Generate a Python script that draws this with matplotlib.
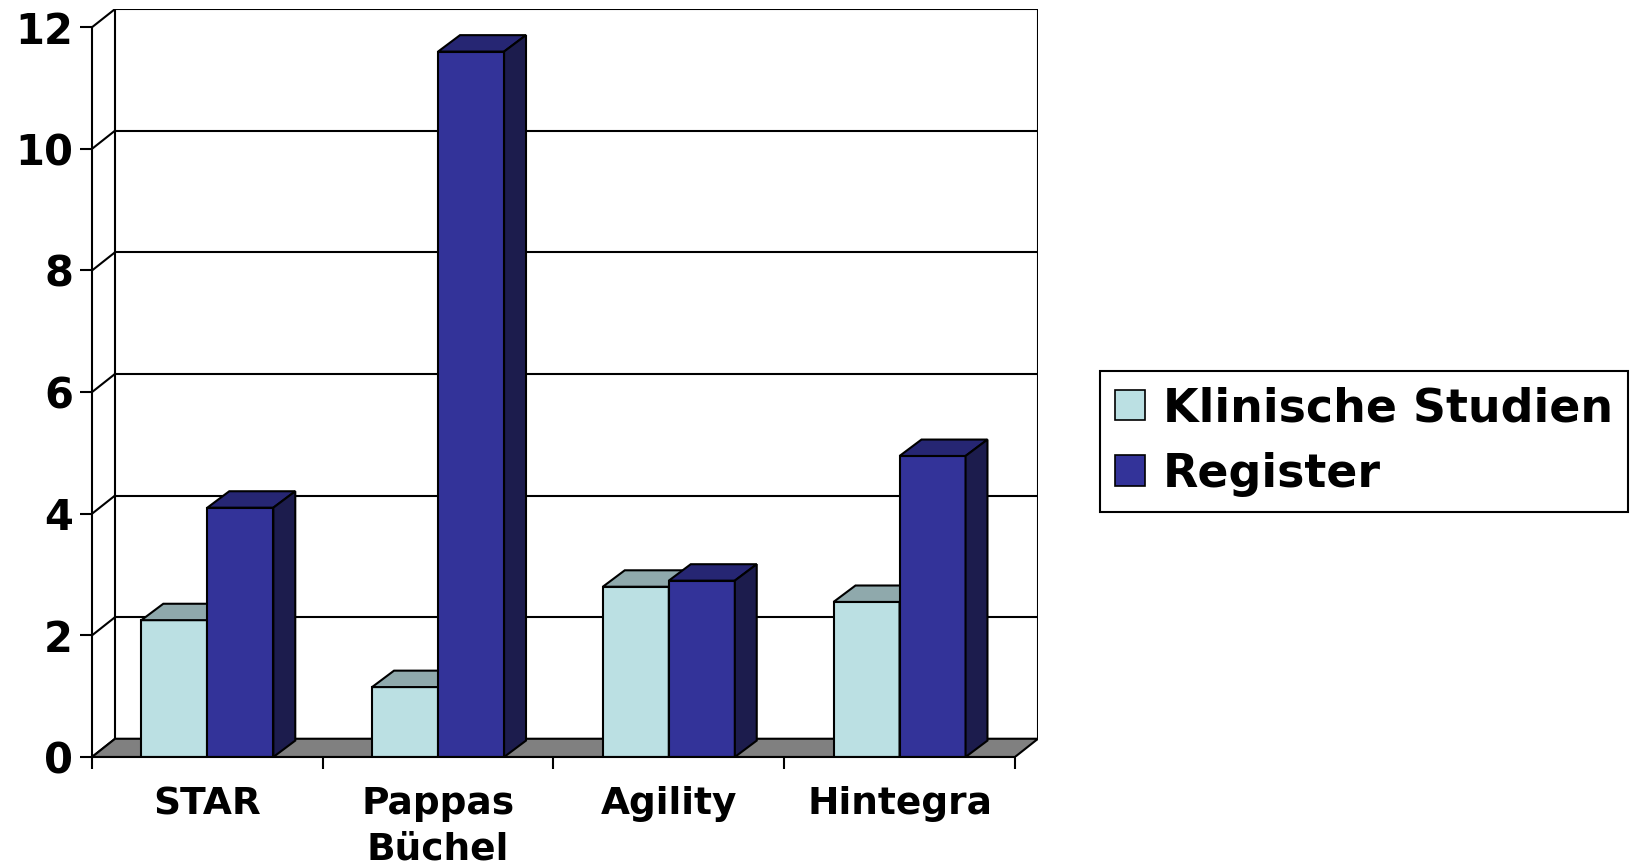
import matplotlib.pyplot as plt
from matplotlib.patches import Polygon, Patch

# Daten
categories = ['STAR', 'Pappas\nBüchel', 'Agility', 'Hintegra']
klinische = [2.25, 1.15, 2.8, 2.55]
register = [4.1, 11.6, 2.9, 4.95]
series_names = ['Klinische Studien', 'Register']
yticks = [0, 2, 4, 6, 8, 10, 12]

# Farben (front, top, side)
col_k = ('#BBE0E3', '#8FA9AC', '#6F8A8C')
col_r = ('#333399', '#262673', '#1C1C4D')
floor_col = '#808080'

# 3D-Versatz (Boden/Rueckwand und Saeulen)
fdx, fdy = 0.1, 0.3
bdx, bdy = 0.095, 0.27
bar_w = 0.286
lw = 1.5

fig = plt.figure(figsize=(16.34, 8.67), dpi=100)
ax = fig.add_axes([92/1634, 110/867, 946/1634, 748/867])
ax.set_xlim(0, 4 + fdx)
ax.set_ylim(0, 12 + fdy)
ymax = yticks[-1]
n = len(categories)

# Boden
ax.add_patch(Polygon([(0, 0), (n, 0), (n + fdx, fdy), (fdx, fdy)],
                     closed=True, facecolor=floor_col, edgecolor='black', lw=lw, zorder=1))
# Rueckwand + Gitterlinien + Seitenwand
for t in yticks:
    ax.plot([fdx, n + fdx], [t + fdy, t + fdy], color='black', lw=lw, zorder=0.5)
    ax.plot([0, fdx], [t, t + fdy], color='black', lw=lw, zorder=0.5)
ax.plot([fdx, fdx], [fdy, ymax + fdy], color='black', lw=lw, zorder=0.5)
ax.plot([n + fdx, n + fdx], [fdy, ymax + fdy], color='black', lw=lw, zorder=0.5)


def bar3d(x, h, cols, z):
    ax.bar(x, h, width=bar_w, align='edge', color=cols[0], edgecolor='black', lw=lw, zorder=z)
    ax.add_patch(Polygon([(x, h), (x + bar_w, h), (x + bar_w + bdx, h + bdy), (x + bdx, h + bdy)],
                         closed=True, facecolor=cols[1], edgecolor='black', lw=lw, zorder=z))
    ax.add_patch(Polygon([(x + bar_w, 0), (x + bar_w + bdx, bdy), (x + bar_w + bdx, h + bdy), (x + bar_w, h)],
                         closed=True, facecolor=cols[2], edgecolor='black', lw=lw, zorder=z))


for i in range(n):
    x0 = i + 0.5 - bar_w
    bar3d(x0, klinische[i], col_k, 2 + i * 2)
    bar3d(x0 + bar_w, register[i], col_r, 3 + i * 2)

# Achsen
for s in ['top', 'right']:
    ax.spines[s].set_visible(False)
ax.spines['left'].set_bounds(0, ymax)
ax.spines['bottom'].set_bounds(0, n)
ax.spines['left'].set_linewidth(lw)
ax.spines['bottom'].set_linewidth(lw)
ax.spines['left'].set_zorder(20)
ax.spines['bottom'].set_zorder(20)

ax.set_yticks(yticks)
ax.set_yticklabels([str(t) for t in yticks], fontsize=30, fontweight='bold', family='DejaVu Sans')
ax.tick_params(axis='y', direction='out', length=8.6, width=lw, pad=5)

ax.set_xticks(range(n + 1))
ax.set_xticklabels([])
ax.set_xticks([i + 0.5 for i in range(n)], minor=True)
ax.set_xticklabels(categories, minor=True, fontsize=27, fontweight='bold', family='DejaVu Sans',
                   linespacing=1.35)
ax.tick_params(axis='x', which='major', direction='out', length=8.6, width=lw)
ax.tick_params(axis='x', which='minor', length=0, pad=21)

# Legende
handles = [Patch(facecolor=col_k[0], edgecolor='black', lw=1.2),
           Patch(facecolor=col_r[0], edgecolor='black', lw=1.2)]
leg = fig.legend(handles, series_names, loc='upper left', bbox_to_anchor=(1100/1634, 1 - 371/867),
                 prop={'family': 'DejaVu Sans', 'weight': 'bold', 'size': 33},
                 frameon=True, fancybox=False, edgecolor='black', framealpha=1,
                 handlelength=0.66, handleheight=0.66, handletextpad=0.38,
                 borderpad=0.33, labelspacing=0.45, borderaxespad=0)
leg.get_frame().set_linewidth(1.5)

fig.savefig('out.png', dpi=100)
plt.close(fig)
